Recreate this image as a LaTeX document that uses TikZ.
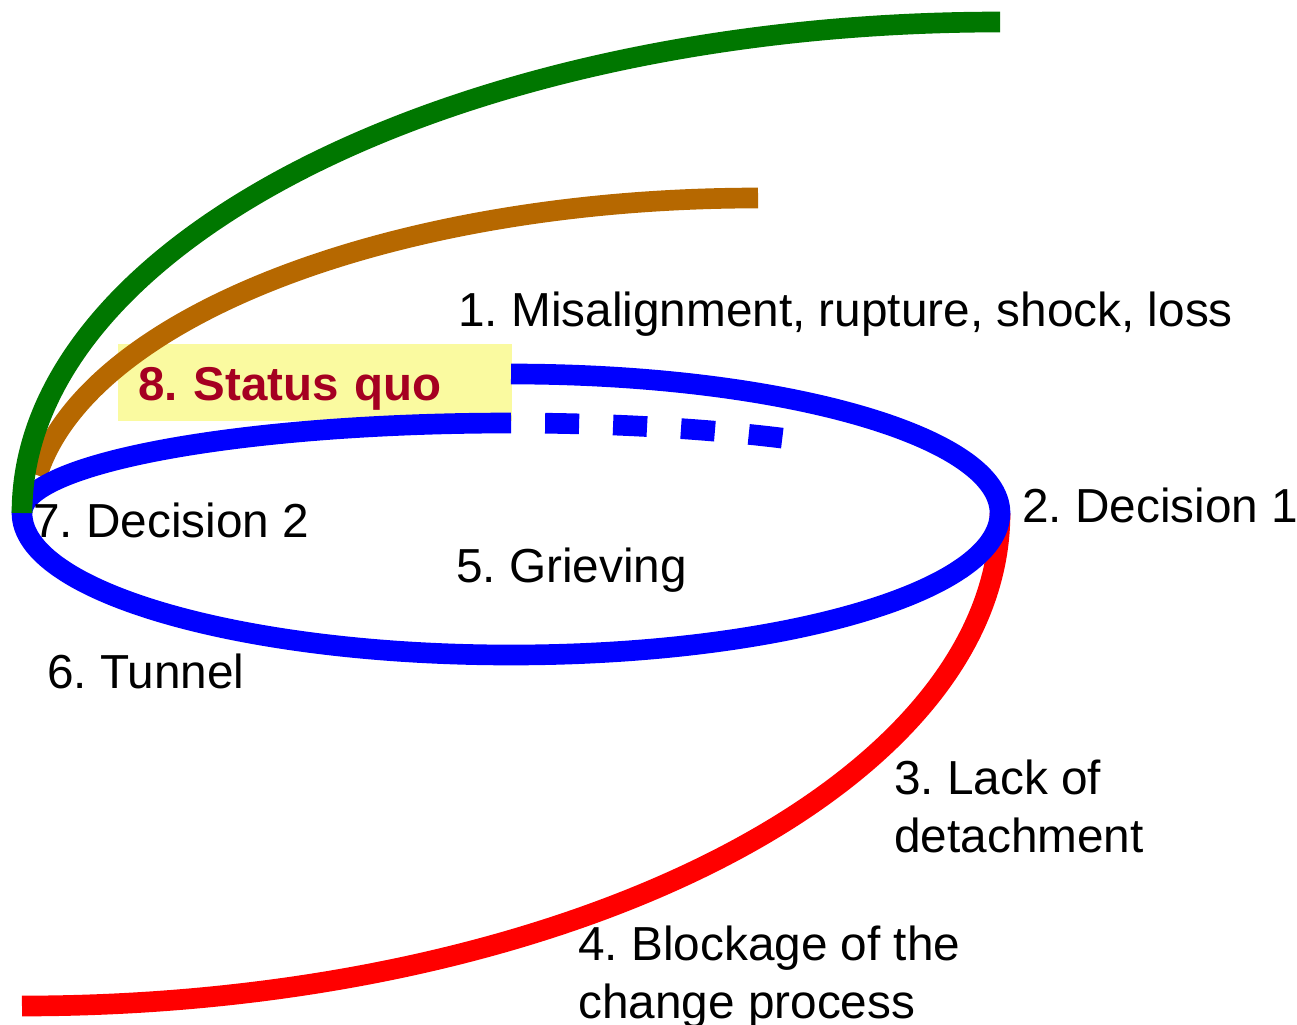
\documentclass[tikz,border=0pt]{standalone}
\usepackage{fontspec}
\setmainfont{Liberation Sans}
\frenchspacing
\definecolor{arcgreen}{RGB}{0,119,0}
\definecolor{arcbrown}{RGB}{182,104,0}
\definecolor{quored}{RGB}{165,0,33}
\definecolor{quofill}{RGB}{250,250,160}
\begin{document}
\begin{tikzpicture}[x=0.75pt,y=0.75pt,
  curve/.style={line width=15.5pt, line cap=butt},
  lbl/.style={anchor=base west, inner sep=0pt, align=left,
    font=\fontsize{35.8pt}{42.9pt}\selectfont},
  quobox/.style={anchor=base west, fill=quofill, inner xsep=15pt, inner ysep=0pt,
    text height=42pt, text depth=15.75pt, text width=265.5pt, align=left,
    text=quored, font=\fontsize{35.6pt}{42.9pt}\selectfont\bfseries}]
\useasboundingbox (0,0) rectangle (1297,-1025);

% key points of the cycle
\coordinate (d2) at (22,-513);
\coordinate (d1) at (1000,-513);
\coordinate (loopstart) at (511,-423);
\path (511,-513) ++(86:489 and 90) coordinate (dashstart);
\path (758,-520) ++(172:728 and 322) coordinate (brownstart);

% status quo box
\node[quobox] (sq) at (118,-400) {8. Status quo};

% blockage branch
\draw[curve, red] (d1) arc[start angle=0, end angle=-90, x radius=978, y radius=493];

% return to the status quo
\draw[curve, arcbrown] (brownstart) arc[start angle=172, end angle=90, x radius=728, y radius=322];

% the change loop
\draw[curve, blue] (loopstart)
  arc[start angle=90, end angle=180, x radius=489, y radius=90]
  arc[start angle=180, end angle=270, x radius=489, y radius=142]
  arc[start angle=270, end angle=360, x radius=489, y radius=142]
  arc[start angle=0, end angle=90, x radius=489, y radius=139];
\draw[curve, blue, dash pattern=on 25.5pt off 25.5pt] (dashstart)
  arc[start angle=86, end angle=56.3, x radius=489, y radius=90];

% new departure
\draw[curve, arcgreen] (d2) arc[start angle=180, end angle=90, x radius=978, y radius=491];

% labels (multi-line labels sit on the baseline of their last line)
\node[lbl] (t1) at (458,-326) {1. Misalignment, rupture, shock, loss};
\node[lbl] (t2) at (1022,-522) {2. Decision 1};
\node[lbl] (t3) at (894,-852) {3. Lack of\\detachment};
\node[lbl] (t4) at (578,-1018) {4. Blockage of the\\change process};
\node[lbl] (t5) at (456,-582) {5. Grieving};
\node[lbl] (t6) at (47,-688) {6. Tunnel};
\node[lbl] (t7) at (33,-537) {7. Decision 2};
\end{tikzpicture}
\end{document}
